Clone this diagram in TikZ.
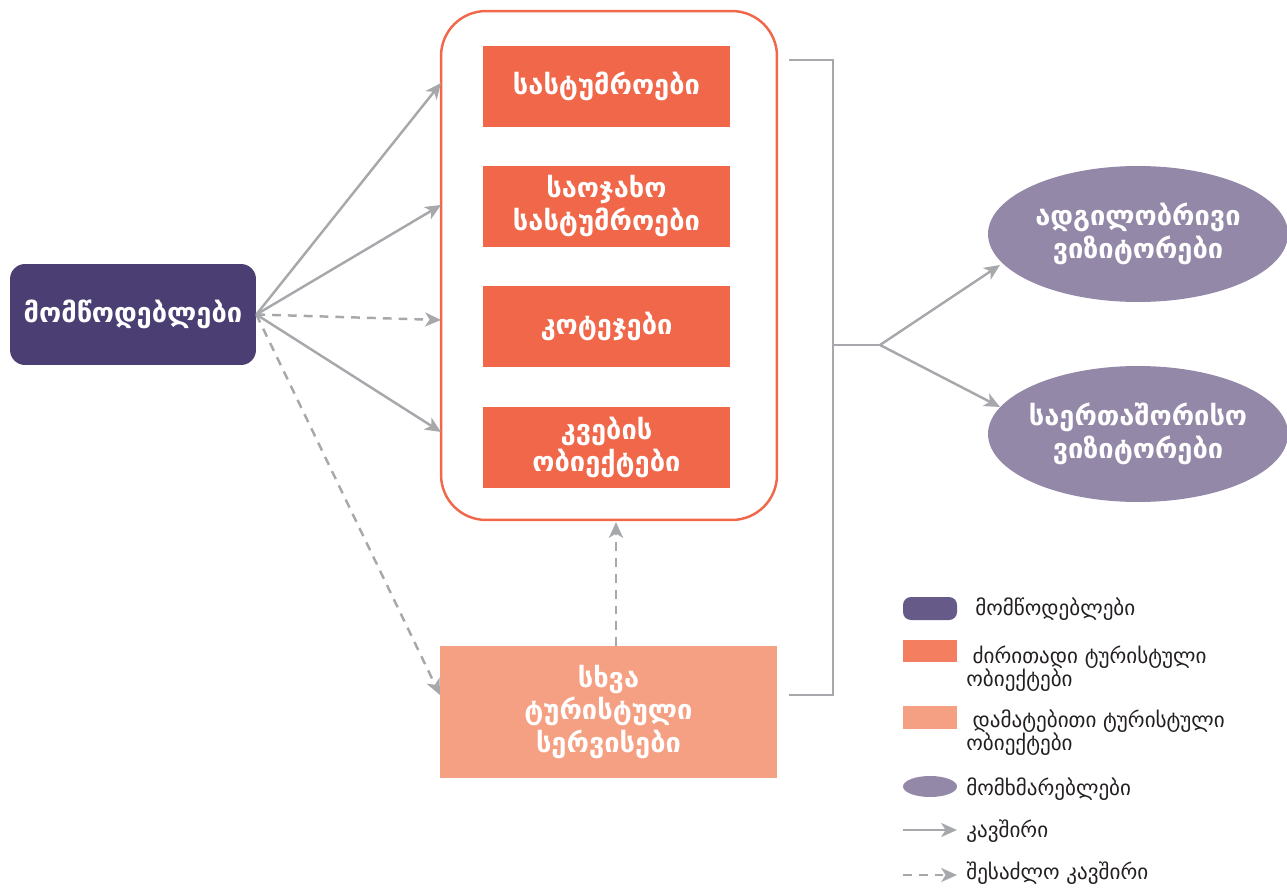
\documentclass[tikz,border=0pt]{standalone}
\usepackage{fontspec}
\setmainfont{DejaVu Sans}
\usepackage{tikz}
\usetikzlibrary{positioning,shapes.geometric,arrows.meta}

\definecolor{supplier}{HTML}{4A3E72}
\definecolor{mainobj}{HTML}{F0674A}
\definecolor{extraobj}{HTML}{F5A082}
\definecolor{visitor}{HTML}{9488A9}
\definecolor{link}{HTML}{A6A8AB}
\definecolor{legsup}{HTML}{665A88}
\definecolor{legmain}{HTML}{F47F60}
\definecolor{legtext}{HTML}{231F20}

\begin{document}
\begin{tikzpicture}[x=0.02cm,y=-0.02cm,
    boxtext/.style={text=white, font=\bfseries\fontsize{15.5}{18.5}\selectfont, align=center},
    objbox/.style={boxtext, fill=mainobj, minimum width=4.94cm, minimum height=1.62cm, inner sep=0pt},
    visbox/.style={boxtext, ellipse, fill=visitor, minimum width=6cm, minimum height=2.72cm, inner xsep=-0.4cm, inner ysep=0pt},
    leg/.style={text=legtext, font=\fontsize{12}{13}\selectfont, align=left, anchor=west, inner sep=0pt},
    conn/.style={draw=link, line width=1.4pt, -{Stealth[length=9pt,width=8pt,inset=2.5pt]}},
    maybe/.style={conn, dash pattern=on 5pt off 4pt}]
  \useasboundingbox (0,0) rectangle (1287,888);

  % suppliers
  \node[boxtext, fill=supplier, rounded corners=0.3cm, minimum width=4.92cm, minimum height=2.02cm] (sup) at (133,314.5) {მომწოდებლები};

  % main tourist objects
  \node[draw=mainobj, line width=1.4pt, rounded corners=0.9cm, minimum width=6.72cm, minimum height=10.18cm] (main) at (609,265.5) {};
  \node[objbox] (hotels) at (606.5,86.5) {სასტუმროები};
  \node[objbox] (family) [below=0.76cm of hotels] {საოჯახო\\სასტუმროები};
  \node[objbox] (cottage) [below=0.78cm of family] {კოტეჯები};
  \node[objbox] (food) [below=0.78cm of cottage] {კვების\\ობიექტები};

  % other services
  \node[boxtext, fill=extraobj, minimum width=6.74cm, minimum height=2.64cm, inner sep=0pt] (other) at (608.5,712) {სხვა\\ტურისტული\\სერვისები};

  % visitors
  \node[visbox] (local) at (1138,234) {ადგილობრივი\\ვიზიტორები};
  \node[visbox] (intl) at (1138,434) {საერთაშორისო\\ვიზიტორები};

  % arrow ends
  \coordinate (a1) at (441,83);
  \coordinate (a2) at (441,205);
  \coordinate (a3) at (441,320);
  \coordinate (a4) at (441,432);
  \coordinate (a5) at (440,695);
  \coordinate (up0) at (616,646);
  \coordinate (up1) at (616,522);
  \coordinate (b1) at (789,60);
  \coordinate (b2) at (833,695);
  \coordinate (b3) at (789,695);
  \coordinate (fork) at (880,345);
  \coordinate (v1) at (1000,265);
  \coordinate (v2) at (1000,407);

  \draw[conn] (sup.east) -- (a1);
  \draw[conn] (sup.east) -- (a2);
  \draw[maybe] (sup.east) -- (a3);
  \draw[conn] (sup.east) -- (a4);
  \draw[maybe] (sup.east) -- (a5);
  \draw[maybe] (up0) -- (up1);

  \draw[draw=link, line width=1.4pt] (b1) -| (b2) -- (b3);
  \draw[draw=link, line width=1.4pt] (b2 |- fork) -- (fork);
  \draw[conn] (fork) -- (v1);
  \draw[conn] (fork) -- (v2);

  % legend
  \fill[legsup, rounded corners=0.16cm] (903,597) rectangle (957,620);
  \fill[legmain] (903,640) rectangle (957,662);
  \fill[extraobj] (903,706) rectangle (957,729);
  \fill[visitor] (930,786.5) ellipse [x radius=27, y radius=10.5];
  \draw[conn, line width=1.2pt] (903,830) -- (957,830);
  \draw[maybe, line width=1.2pt] (903,875) -- (957,875);

  \node[leg] (l1) at (975,609) {მომწოდებლები};
  \node[leg] (l2) at (966,669) {\hspace*{0.3em}ძირითადი ტურისტული\\ობიექტები};
  \node[leg] (l3) at (966,733) {\hspace*{0.3em}დამატებითი ტურისტული\\ობიექტები};
  \node[leg] (l4) at (966,789) {მომხმარებლები};
  \node[leg] (l5) at (966,831) {კავშირი};
  \node[leg] (l6) at (966,873) {შესაძლო კავშირი};
\end{tikzpicture}
\end{document}
